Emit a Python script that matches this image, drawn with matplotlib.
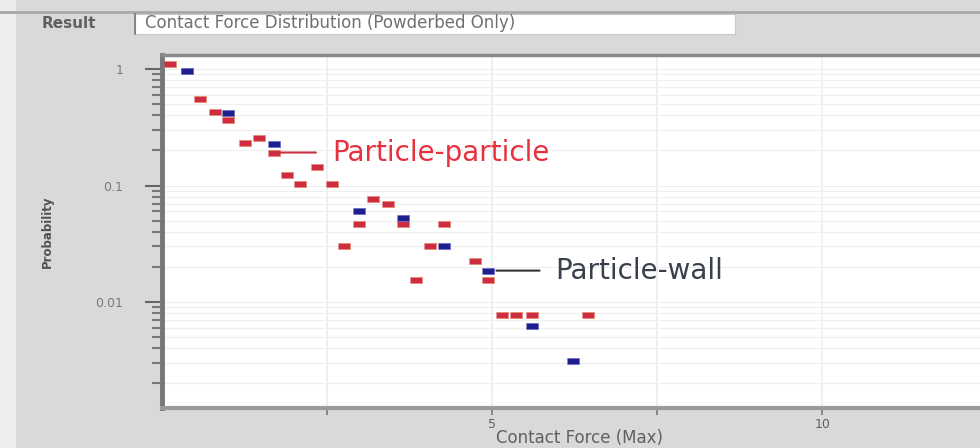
import numpy as np
import matplotlib.pyplot as plt
from matplotlib.ticker import LogLocator, NullFormatter, FixedLocator

# datos (fuerza de contacto vs probabilidad)
pp_force = [0.12, 0.38, 0.58, 0.80, 1.00, 1.26, 1.47, 1.70, 1.89, 2.09, 2.35, 2.58, 2.76,
            2.98, 3.20, 3.42, 3.65, 3.85, 4.06, 4.27, 4.74, 4.94, 5.15, 5.36, 5.61, 6.45]
pp_prob = [1.10, 0.96, 0.554, 0.429, 0.367, 0.233, 0.257, 0.192, 0.122, 0.104, 0.143, 0.104, 0.030,
           0.0464, 0.077, 0.069, 0.0464, 0.0154, 0.030, 0.0464, 0.0227, 0.0154, 0.0077, 0.0077, 0.0077, 0.0077]

pw_force = [0.38, 1.00, 1.70, 2.98, 3.65, 4.27, 4.94, 5.61, 6.23]
pw_prob = [0.96, 0.42, 0.229, 0.061, 0.053, 0.030, 0.0186, 0.0062, 0.0031]

titulo = "Contact Force Distribution (Powderbed Only)"
xticks_major = [5, 10]
xticks_minor = [2.5, 7.5]
yticks = [1, 0.1, 0.01]
ytick_labels = ["1", "0.1", "0.01"]

gris = "#d9d9d9"
rojo = "#cc2d40"
azul = "#1e1e8e"

fig = plt.figure(figsize=(9.8, 4.48), dpi=100, facecolor=gris)

# franja clara a la izquierda
fig.patches.append(plt.Rectangle((0, 0), 15/980, 1, transform=fig.transFigure,
                                 color="#ededed", zorder=0))
# linea superior
fig.add_artist(plt.Line2D([0, 1], [1-12/448, 1-12/448], color="#a8a8a8", lw=2))
# barra de resultado
fig.text(42/980, 1-23/448, "Result", fontsize=11, color="#606060", va="center", fontweight="bold")
fig.patches.append(plt.Rectangle((135/980, 1-34/448), 600/980, 20/448, transform=fig.transFigure,
                                 facecolor="white", edgecolor="#c8c8c8", lw=0.8, zorder=1))
fig.add_artist(plt.Line2D([135/980, 135/980], [1-34/448, 1-14/448], color="#777777", lw=1.2))
fig.text(145/980, 1-23/448, titulo, fontsize=12, color="#707070", va="center")

ax = fig.add_axes([162/980, 1-408/448, 1-162/980, (408-55)/448])
ax.set_facecolor("white")

rect = [(-1, -0.55), (1, -0.55), (1, 0.55), (-1, 0.55)]
ax.plot(pp_force, pp_prob, ls="none", marker=rect, ms=9, color=rojo, mec="#e88a70", mew=0.6, zorder=3)
ax.plot(pw_force, pw_prob, ls="none", marker=rect, ms=9, color=azul, mec="#7070c8", mew=0.6, zorder=4)

ax.set_yscale("log")
ax.set_xlim(0, 12.39)
ax.set_ylim(0.00123, 1.32)

ax.xaxis.set_major_locator(FixedLocator(xticks_major))
ax.xaxis.set_minor_locator(FixedLocator(xticks_minor))
ax.set_xticklabels([str(t) for t in xticks_major])
ax.yaxis.set_major_locator(FixedLocator(yticks))
ax.set_yticklabels(ytick_labels)
ax.yaxis.set_minor_locator(LogLocator(base=10, subs=np.arange(2, 10)))
ax.yaxis.set_minor_formatter(NullFormatter())

ax.grid(True, which="both", axis="y", color="#efefef", lw=0.8)
ax.grid(True, which="both", axis="x", color="#ececec", lw=1.2)
ax.set_axisbelow(True)

ax.spines["right"].set_visible(False)
ax.spines["left"].set_color("#777777")
ax.spines["left"].set_linewidth(3.5)
ax.spines["bottom"].set_color("#9a9a9a")
ax.spines["bottom"].set_linewidth(3)
ax.spines["top"].set_color("#8a8a8a")
ax.spines["top"].set_linewidth(2.5)

ax.tick_params(axis="y", which="major", length=12, width=1.5, color="#666666",
               labelsize=9, labelcolor="#7a7a7a", pad=16)
ax.tick_params(axis="y", which="minor", length=7, width=1.5, color="#777777")
ax.tick_params(axis="x", which="both", length=5, width=1.2, color="#777777",
               labelsize=9, labelcolor="#606060", pad=2)

ax.set_xlabel("Contact Force (Max)", fontsize=12, color="#606060", labelpad=0)
ax.xaxis.set_label_coords(0.51, -0.06)
ax.set_ylabel("Probability", fontsize=8.5, color="#505050", fontweight="bold", labelpad=30)

ax.annotate("Particle-particle", xy=(pp_force[7], pp_prob[7]), xytext=(42, 0),
            textcoords="offset points", ha="left", va="center", fontsize=20, color="#e8303f",
            arrowprops=dict(arrowstyle="-", color="#c83040", lw=1.5, relpos=(0, 0.5),
                            shrinkA=10, shrinkB=2))
ax.annotate("Particle-wall", xy=(pw_force[6], pw_prob[6]), xytext=(48, 0),
            textcoords="offset points", ha="left", va="center", fontsize=20, color="#3a3f4c",
            arrowprops=dict(arrowstyle="-", color="#333333", lw=1.5, relpos=(0, 0.5),
                            shrinkA=9, shrinkB=6))

plt.savefig("out.png", dpi=100, facecolor=gris)
